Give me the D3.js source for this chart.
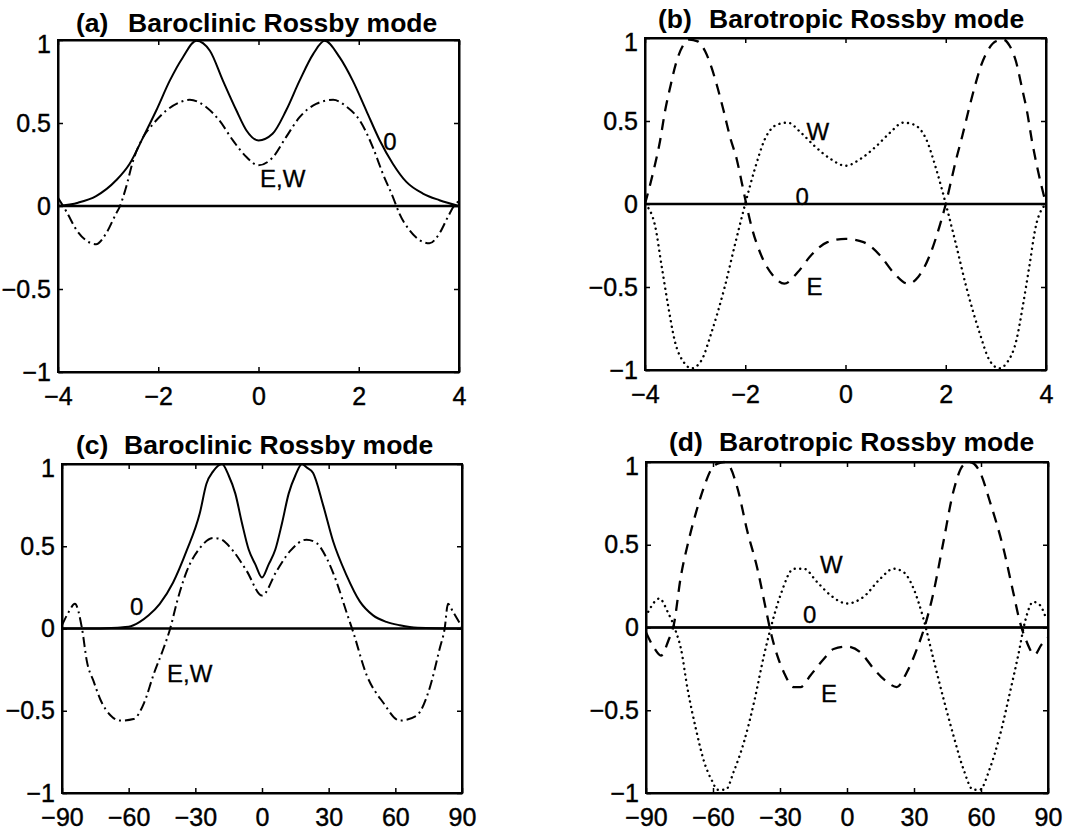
<!DOCTYPE html>
<html><head><meta charset="utf-8">
<script src="https://cdn.jsdelivr.net/npm/d3@7"></script>
<style>
html,body{margin:0;padding:0;background:#fff;}
svg{display:block;font-family:"Liberation Sans",Arial,Helvetica,sans-serif;}
</style></head><body>
<svg id="chart" width="1086" height="831"></svg>
<script>
// ---------- tick values & labels ----------
const yTicks = [-1, -0.5, 0, 0.5, 1];
const yTickLabels = ["\u22121", "\u22120.5", "0", "0.5", "1"];
const xTicksTop = [-4, -2, 0, 2, 4];
const xTickLabelsTop = ["\u22124", "\u22122", "0", "2", "4"];
const xTicksBottom = [-90, -60, -30, 0, 30, 60, 90];
const xTickLabelsBottom = ["\u221290", "\u221260", "\u221230", "0", "30", "60", "90"];

// ---------- titles ----------
const panelTags = ["(a)", "(b)", "(c)", "(d)"];
const panelTitles = ["Baroclinic Rossby mode", "Barotropic Rossby mode", "Baroclinic Rossby mode", "Barotropic Rossby mode"];

// ---------- (a) baroclinic, x in [-4,4] ----------
const a0X = [-4, -3.6, -3.24, -2.84, -2.57, -2.3, -2.04, -1.77, -1.51, -1.24, -0.97, -0.71, -0.44, -0.24, 0, 0.28, 0.55, 0.82, 1.09, 1.32, 1.62, 1.88, 2.15, 2.42, 2.68, 2.95, 3.28, 3.61, 4];
const a0Y = [0, 0.02, 0.06, 0.155, 0.255, 0.415, 0.575, 0.755, 0.895, 0.995, 0.935, 0.755, 0.575, 0.455, 0.395, 0.435, 0.575, 0.755, 0.915, 0.995, 0.895, 0.755, 0.575, 0.395, 0.255, 0.145, 0.075, 0.035, 0];
const aEWX = [-4, -3.83, -3.63, -3.37, -3.24, -3.04, -2.84, -2.77, -2.64, -2.5, -2.3, -2.1, -1.84, -1.57, -1.37, -1.04, -0.78, -0.51, -0.24, 0, 0.29, 0.55, 0.82, 1.15, 1.49, 1.75, 2.02, 2.28, 2.48, 2.68, 2.81, 3.01, 3.21, 3.41, 3.61, 3.78, 3.91, 4];
const aEWY = [0.05, -0.035, -0.145, -0.22, -0.23, -0.165, -0.045, -0.005, 0.115, 0.275, 0.415, 0.495, 0.575, 0.625, 0.64, 0.595, 0.515, 0.395, 0.295, 0.245, 0.295, 0.415, 0.535, 0.615, 0.64, 0.6, 0.515, 0.355, 0.195, 0.055, -0.045, -0.145, -0.205, -0.225, -0.165, -0.065, 0.005, 0.03];

// ---------- (b) barotropic, x in [-4,4] ----------
const b0X = [-4, 4];
const b0Y = [0, 0];
const bEX = [-4, -3.83, -3.7, -3.6, -3.5, -3.37, -3.25, -3.12, -2.95, -2.8, -2.67, -2.57, -2.43, -2.3, -2.17, -2.07, -1.98, -1.88, -1.68, -1.42, -1.22, -0.95, -0.69, -0.36, 0, 0.36, 0.69, 0.95, 1.25, 1.45, 1.68, 1.88, 2.0, 2.1, 2.2, 2.33, 2.46, 2.6, 2.7, 2.83, 3.0, 3.15, 3.28, 3.4, 3.52, 3.62, 3.72, 3.84, 4];
const bEY = [0, 0.2, 0.38, 0.56, 0.70, 0.86, 0.95, 0.99, 0.98, 0.92, 0.82, 0.72, 0.56, 0.40, 0.27, 0.13, 0, -0.13, -0.31, -0.44, -0.48, -0.41, -0.31, -0.23, -0.21, -0.23, -0.31, -0.41, -0.48, -0.44, -0.31, -0.13, 0, 0.13, 0.26, 0.41, 0.57, 0.73, 0.83, 0.92, 0.98, 0.99, 0.95, 0.86, 0.70, 0.56, 0.38, 0.2, 0];
const bWX = [-4, -3.8, -3.67, -3.54, -3.41, -3.21, -3.07, -2.87, -2.68, -2.41, -2.21, -2.01, -1.81, -1.61, -1.35, -1.15, -0.89, -0.62, -0.29, 0, 0.29, 0.62, 0.89, 1.15, 1.35, 1.61, 1.81, 2.01, 2.21, 2.41, 2.68, 2.87, 3.07, 3.21, 3.41, 3.54, 3.67, 3.8, 4];
const bWY = [0, -0.13, -0.37, -0.61, -0.82, -0.96, -0.99, -0.94, -0.78, -0.50, -0.25, -0.01, 0.21, 0.39, 0.48, 0.49, 0.43, 0.35, 0.27, 0.23, 0.27, 0.35, 0.43, 0.49, 0.48, 0.39, 0.21, -0.01, -0.25, -0.50, -0.78, -0.94, -0.99, -0.96, -0.82, -0.61, -0.37, -0.13, 0];

// ---------- (c) baroclinic, latitude ----------
const c0X = [-90, -75, -65, -60, -55, -51, -46, -40, -34, -28, -25, -22, -18, -15, -12, -9, -6, -3, 0, 3, 6, 9, 12, 15, 18, 20, 23, 27.5, 32, 38, 44, 50, 56, 62, 70, 90];
const c0Y = [0, 0, 0.005, 0.01, 0.04, 0.08, 0.15, 0.28, 0.47, 0.70, 0.88, 0.955, 1.0, 0.93, 0.82, 0.64, 0.48, 0.39, 0.31, 0.39, 0.48, 0.64, 0.82, 0.93, 1.0, 0.98, 0.945, 0.75, 0.53, 0.325, 0.165, 0.08, 0.04, 0.02, 0.005, 0];
const cEWX = [-90, -87, -84.2, -81, -78.8, -75.8, -72.8, -68, -63.8, -57.8, -53, -48.8, -44.3, -41.3, -38.3, -33.8, -27.9, -21.9, -18.9, -12.9, -6.9, 0, 6.6, 12.6, 20, 24.5, 29, 33.5, 38, 41, 47, 54.5, 62, 69.5, 75.5, 80, 82.2, 83.7, 86, 90];
const cEWY = [0.02, 0.1, 0.15, 0, -0.2, -0.32, -0.43, -0.53, -0.56, -0.55, -0.45, -0.28, -0.12, 0, 0.16, 0.35, 0.49, 0.55, 0.545, 0.47, 0.35, 0.2, 0.35, 0.47, 0.54, 0.52, 0.43, 0.285, 0.1, -0.02, -0.28, -0.45, -0.56, -0.53, -0.36, -0.12, 0, 0.15, 0.1, 0.01];

// ---------- (d) barotropic, latitude ----------
const d0X = [-90, 90];
const d0Y = [0, 0];
const dEX = [-90, -86.5, -83.3, -80, -77.5, -74.5, -71, -67.5, -64, -61, -58, -55, -52.8, -49, -44.6, -40.2, -36.4, -34.2, -31.2, -28.3, -23.8, -20.8, -16.4, -10.4, -6, 0, 6, 12, 18, 22.3, 26.8, 31.3, 35, 38.7, 43.2, 47.6, 52, 55, 59.5, 64, 70, 74.4, 77.4, 80.4, 84, 87, 90];
const dEY = [-0.03, -0.12, -0.17, -0.08, 0.02, 0.30, 0.52, 0.70, 0.85, 0.95, 0.99, 1.0, 0.98, 0.84, 0.58, 0.36, 0.115, -0.025, -0.17, -0.27, -0.36, -0.36, -0.29, -0.19, -0.13, -0.115, -0.15, -0.25, -0.33, -0.36, -0.27, -0.13, 0.015, 0.21, 0.52, 0.82, 0.98, 1.0, 0.94, 0.76, 0.48, 0.215, 0.035, -0.085, -0.165, -0.105, -0.06];
const dWX = [-89, -84, -80.3, -76.6, -74.4, -71.4, -67.7, -64, -60.3, -58, -54.3, -50.7, -46.1, -41.6, -37.2, -34.2, -29.8, -23.8, -19.3, -13.4, -7.4, 0, 7.4, 14.9, 20.8, 25.3, 29.8, 34.2, 38.7, 43.2, 47.6, 52, 56.5, 59.5, 64, 68.5, 73, 76.7, 79.7, 83.4, 86.4, 88.6];
const dWY = [0.095, 0.175, 0.095, -0.025, -0.125, -0.37, -0.61, -0.81, -0.93, -0.98, -0.98, -0.87, -0.69, -0.45, -0.17, -0.005, 0.195, 0.355, 0.355, 0.275, 0.195, 0.145, 0.185, 0.295, 0.355, 0.335, 0.235, 0.055, -0.19, -0.43, -0.65, -0.85, -0.98, -0.98, -0.85, -0.65, -0.39, -0.165, 0.035, 0.155, 0.135, 0.075];

// ---------- curve labels (data coordinates) ----------
const labelsA = [{t: "0", x: 2.49, y: 0.34}, {t: "E,W", x: 0.03, y: 0.115}];
const labelsB = [{t: "W", x: -0.78, y: 0.386}, {t: "0", x: -1.0, y: -0.006}, {t: "E", x: -0.78, y: -0.548}];
const labelsC = [{t: "0", x: -59.4, y: 0.082}, {t: "E,W", x: -42.7, y: -0.325}];
const labelsD = [{t: "W", x: -12.1, y: 0.33}, {t: "0", x: -19.7, y: 0.027}, {t: "E", x: -11.6, y: -0.45}];

// ---------- styles ----------
const SOLID = {dash: null, w: 2, cap: "butt"};
const DASHED = {dash: "11,8", w: 2.3, cap: "butt"};
const DASHDOT = {dash: "10,4,2,4", w: 2, cap: "butt"};
const DOTTED = {dash: "0.1,5.4", w: 2.4, cap: "round"};

const panels = [
  {box: [58, 459, 40, 372], tagX: 76, restX: 128, titleY: 32, xDomain: [-4, 4], xTicks: xTicksTop, xLabels: xTickLabelsTop,
   series: [[a0X, a0Y, SOLID], [aEWX, aEWY, DASHDOT]], labels: labelsA},
  {box: [645, 1046, 38, 370], tagX: 658, restX: 709, titleY: 28, xDomain: [-4, 4], xTicks: xTicksTop, xLabels: xTickLabelsTop,
   series: [[b0X, b0Y, SOLID], [bEX, bEY, DASHED], [bWX, bWY, DOTTED]], labels: labelsB},
  {box: [62, 462, 464, 793], tagX: 76, restX: 124, titleY: 454, xDomain: [-90, 90], xTicks: xTicksBottom, xLabels: xTickLabelsBottom,
   series: [[c0X, c0Y, SOLID], [cEWX, cEWY, DASHDOT]], labels: labelsC},
  {box: [646, 1048, 462, 793], tagX: 669, restX: 719, titleY: 451, xDomain: [-90, 90], xTicks: xTicksBottom, xLabels: xTickLabelsBottom,
   series: [[d0X, d0Y, SOLID], [dEX, dEY, DASHED], [dWX, dWY, DOTTED]], labels: labelsD}
];

const svg = d3.select("#chart");
svg.append("rect").attr("width", 1086).attr("height", 831).attr("fill", "#fff");

panels.forEach((p, i) => {
  const [L, R, T, B] = p.box;
  const x = d3.scaleLinear().domain(p.xDomain).range([L, R]);
  const y = d3.scaleLinear().domain([-1, 1]).range([B, T]);
  const g = svg.append("g");

  const clipId = "clip" + i;
  svg.append("clipPath").attr("id", clipId).append("rect")
    .attr("x", L - 1).attr("y", T - 1.5).attr("width", R - L + 2).attr("height", B - T + 3);

  // zero reference line
  g.append("line").attr("x1", x(p.xDomain[0])).attr("x2", x(p.xDomain[1]))
    .attr("y1", y(0)).attr("y2", y(0)).attr("stroke", "#000").attr("stroke-width", 2.4);

  // series
  const line = d3.line().x(d => x(d[0])).y(d => y(d[1])).curve(d3.curveMonotoneX);
  const cg = g.append("g").attr("clip-path", `url(#${clipId})`);
  p.series.forEach(([xs, ys, st]) => {
    const pts = xs.map((v, k) => [v, ys[k]]);
    cg.append("path").datum(pts).attr("d", line)
      .attr("fill", "none").attr("stroke", "#000")
      .attr("stroke-width", st.w)
      .attr("stroke-dasharray", st.dash)
      .attr("stroke-linecap", st.cap)
      .attr("stroke-linejoin", "round");
  });

  // axes (inward ticks on all four sides)
  const fx = d => p.xLabels[p.xTicks.indexOf(d)];
  const fy = d => yTickLabels[yTicks.indexOf(d)];
  g.append("g").attr("transform", `translate(0,${B})`)
    .call(d3.axisBottom(x).tickValues(p.xTicks).tickSize(-5).tickSizeOuter(0).tickPadding(15).tickFormat(fx));
  const left = g.append("g").attr("transform", `translate(${L},0)`)
    .call(d3.axisLeft(y).tickValues(yTicks).tickSize(-5).tickSizeOuter(0).tickPadding(7).tickFormat(fy));
  g.append("g").attr("transform", `translate(0,${T})`)
    .call(d3.axisTop(x).tickValues(p.xTicks).tickSize(-5).tickSizeOuter(0).tickFormat(""));
  g.append("g").attr("transform", `translate(${R},0)`)
    .call(d3.axisRight(y).tickValues(yTicks).tickSize(-5).tickSizeOuter(0).tickFormat(""));
  g.selectAll(".domain").attr("stroke", "#000").attr("stroke-width", 2);
  g.selectAll(".tick line").attr("stroke", "#000").attr("stroke-width", 1.5);
  g.selectAll(".tick text").attr("fill", "#000").attr("font-size", 25)
    .attr("stroke", "#000").attr("stroke-width", 0.4)
    .attr("font-family", '"Liberation Sans", Arial, sans-serif');
  left.selectAll(".tick text").filter(d => d === 1).attr("dy", "0.5em");

  // box
  g.append("rect").attr("x", L).attr("y", T).attr("width", R - L).attr("height", B - T)
    .attr("fill", "none").attr("stroke", "#000").attr("stroke-width", 2);

  // curve labels
  g.selectAll("text.lbl").data(p.labels).enter().append("text").attr("class", "lbl")
    .attr("x", d => x(d.x)).attr("y", d => y(d.y))
    .attr("font-size", 24).attr("fill", "#000").attr("stroke", "#000").attr("stroke-width", 0.3).text(d => d.t);

  // title
  const t = svg.append("text").attr("y", p.titleY).attr("font-size", 26.5).attr("font-weight", "bold").attr("fill", "#000");
  t.append("tspan").attr("x", p.tagX).text(panelTags[i]);
  t.append("tspan").attr("x", p.restX).text(panelTitles[i]);
});
</script>
</body></html>
